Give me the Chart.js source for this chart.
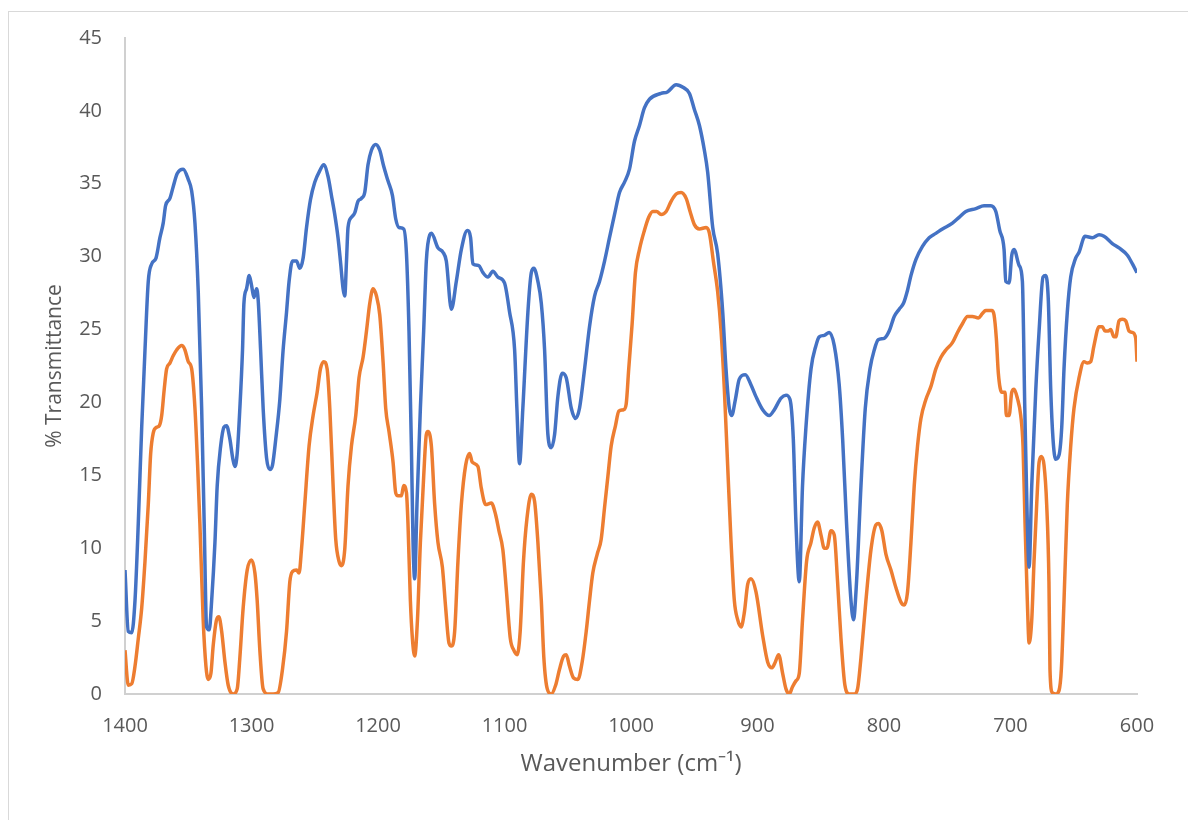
<!DOCTYPE html>
<html>
<head>
<meta charset="utf-8">
<script src="https://cdn.jsdelivr.net/npm/chart.js@4"></script>
<style>
  html, body { margin: 0; padding: 0; background: #fff; overflow: hidden; }
  #wrap { position: relative; width: 1188px; height: 820px; }
  #frame { position: absolute; left: 8px; top: 11px; width: 1200px; height: 830px; border: 1px solid #d9d9d9; }
  #ir { position: absolute; left: 0; top: 0; }
</style>
</head>
<body>
<div id="wrap">
  <div id="frame"></div>
  <canvas id="ir" width="1188" height="820"></canvas>
</div>
<script>
// axis ticks
const xTicks = [1400, 1300, 1200, 1100, 1000, 900, 800, 700, 600];
const yTicks = [0, 5, 10, 15, 20, 25, 30, 35, 40, 45];

// blue trace, wavenumber (cm-1) and % transmittance
const blueWn = [1400, 1397.4, 1394.7, 1392.1, 1389.5, 1386.8, 1384.2, 1381.6, 1378.9, 1375.5,
  1372.4, 1369.8, 1367.9, 1364.5, 1361.9, 1358.7, 1354.0, 1350.0, 1347.3, 1344.7,
  1342.1, 1339.4, 1337.4, 1335.5, 1333.4, 1331.5, 1328.9, 1327.1, 1324.4, 1321.8,
  1319.7, 1317.1, 1314.9, 1313.1, 1311.3, 1309.2, 1307.1, 1306.0, 1303.9, 1301.8,
  1299.9, 1298.1, 1296.0, 1294.7, 1292.8, 1290.8, 1288.1, 1285.5, 1283.4, 1280.8,
  1277.6, 1275.0, 1272.3, 1270.3, 1267.6, 1264.4, 1261.8, 1259.2, 1256.5, 1253.4,
  1250.0, 1246.0, 1242.9, 1239.5, 1236.8, 1234.2, 1231.6, 1229.7, 1227.6, 1226.3,
  1224.9, 1223.7, 1221.0, 1218.4, 1215.8, 1213.1, 1210.5, 1207.9, 1205.2, 1201.8,
  1198.6, 1195.5, 1192.1, 1188.6, 1186.0, 1183.4, 1179.7, 1177.5, 1175.5, 1173.6,
  1172.3, 1171.0, 1169.2, 1166.5, 1163.9, 1161.8, 1159.1, 1157.8, 1152.6, 1148.6,
  1146.0, 1142.0, 1138.1, 1134.1, 1129.4, 1126.8, 1125.0, 1120.5, 1117.0, 1113.1,
  1109.2, 1105.2, 1100.0, 1096.0, 1092.0, 1090.2, 1088.1, 1085.5, 1081.5, 1078.8,
  1076.8, 1073.6, 1070.9, 1068.3, 1065.7, 1063.0, 1060.4, 1057.8, 1054.4, 1051.2,
  1047.2, 1043.8, 1040.7, 1036.7, 1032.8, 1028.8, 1024.9, 1020.9, 1017.0, 1013.0,
  1009.1, 1005.2, 1001.2, 997.3, 993.3, 989.4, 985.4, 976.2, 971.2, 964.3,
  958.6, 953.8, 949.9, 945.9, 942.0, 939.4, 935.4, 931.5, 927.5, 924.9,
  922.3, 920.4, 917.5, 914.4, 909.6, 905.1, 901.2, 895.9, 890.7, 886.7,
  881.4, 877.5, 874.3, 871.7, 869.6, 867.0, 864.4, 861.7, 857.7, 853.8,
  851.2, 847.2, 843.3, 839.3, 835.4, 832.7, 829.6, 826.1, 824.1, 821.7,
  818.2, 814.8, 811.1, 807.7, 804.6, 799.8, 795.9, 791.9, 788.0, 784.6,
  781.4, 778.7, 774.8, 769.6, 764.3, 759.0, 753.8, 745.9, 740.6, 735.3,
  727.4, 720.9, 715.6, 711.6, 708.5, 705.1, 703.7, 701.1, 699.0, 697.2,
  693.2, 690.6, 688.7, 686.7, 685.3, 683.2, 680.0, 677.4, 674.3, 672.2,
  670.1, 668.2, 666.4, 664.3, 661.6, 659.5, 657.7, 655.1, 652.4, 648.5,
  645.8, 641.1, 635.3, 630.0, 626.1, 619.5, 614.2, 607.6, 603.6, 600];
const blueT = [8.5, 4.3, 4.2, 6.4, 11.7, 18.3, 23.6, 28.3, 29.5, 29.9,
  31.3, 32.3, 33.5, 34.0, 34.8, 35.7, 36.0, 35.3, 34.5, 32.3,
  27.6, 19.6, 11.7, 4.6, 4.4, 6.4, 10.4, 14.3, 17.0, 18.3,
  18.4, 17.5, 16.2, 15.6, 16.5, 19.6, 23.6, 26.8, 27.8, 28.7,
  28.0, 27.2, 27.8, 27.0, 23.6, 19.6, 16.2, 15.4, 15.7, 17.5,
  20.2, 23.6, 26.2, 28.3, 29.7, 29.7, 29.2, 29.9, 32.0, 33.9,
  35.1, 35.9, 36.3, 35.5, 34.2, 32.9, 31.3, 29.7, 27.8, 27.3,
  29.7, 32.0, 32.7, 33.0, 33.8, 34.0, 34.4, 36.3, 37.3, 37.7,
  37.3, 36.2, 35.2, 34.2, 32.6, 32.0, 31.9, 30.2, 24.9, 17.0,
  10.4, 7.9, 13.0, 19.6, 24.9, 29.7, 31.5, 31.6, 30.6, 30.3,
  29.7, 26.4, 28.3, 30.5, 31.8, 31.3, 29.5, 29.4, 28.9, 28.6,
  29.0, 28.6, 28.2, 26.2, 23.6, 19.6, 15.8, 19.6, 26.2, 28.9,
  29.2, 28.3, 26.8, 23.6, 17.8, 16.9, 17.8, 20.4, 22.0, 21.7,
  19.6, 18.9, 19.6, 22.3, 25.2, 27.3, 28.3, 29.7, 31.3, 32.9,
  34.4, 35.1, 36.0, 37.9, 39.0, 40.2, 40.8, 41.2, 41.3, 41.8,
  41.6, 41.2, 40.1, 39.0, 37.3, 35.8, 32.0, 30.2, 26.2, 22.3,
  19.6, 19.1, 20.2, 21.6, 21.9, 21.2, 20.4, 19.5, 19.1, 19.5,
  20.3, 20.5, 20.2, 17.5, 11.7, 7.7, 14.3, 18.3, 22.3, 23.9,
  24.5, 24.6, 24.8, 23.9, 21.2, 17.5, 11.7, 6.4, 5.1, 7.7,
  14.3, 19.6, 22.3, 23.6, 24.3, 24.4, 24.9, 25.9, 26.4, 26.8,
  27.7, 28.7, 29.8, 30.7, 31.3, 31.6, 31.9, 32.3, 32.7, 33.1,
  33.3, 33.5, 33.5, 33.1, 31.8, 30.5, 28.3, 28.2, 30.1, 30.5,
  29.4, 28.3, 19.6, 11.7, 8.7, 14.3, 20.9, 24.9, 28.6, 28.7,
  27.0, 20.9, 17.5, 16.1, 16.4, 18.3, 22.3, 26.2, 28.6, 29.9,
  30.3, 31.4, 31.3, 31.5, 31.4, 30.9, 30.6, 30.1, 29.5, 28.9];

// orange trace, wavenumber (cm-1) and % transmittance
const orangeWn = [1400, 1397.4, 1394.7, 1392.1, 1389.5, 1386.8, 1384.2, 1381.6, 1379.7, 1377.7,
  1375.0, 1372.9, 1371.0, 1369.0, 1367.1, 1364.5, 1361.9, 1359.2, 1355.2, 1352.6,
  1350.0, 1347.3, 1344.7, 1342.6, 1340.8, 1338.2, 1336.0, 1334.2, 1332.1, 1330.3,
  1327.6, 1325.8, 1323.6, 1321.0, 1318.4, 1314.5, 1311.3, 1309.2, 1306.6, 1303.4,
  1300.0, 1297.3, 1295.5, 1293.4, 1290.8, 1286.8, 1282.9, 1278.9, 1275.5, 1272.3,
  1269.7, 1267.6, 1264.4, 1262.4, 1260.5, 1257.9, 1254.5, 1251.3, 1248.1, 1245.5,
  1242.9, 1240.2, 1238.1, 1235.5, 1233.4, 1230.8, 1228.9, 1226.3, 1223.7, 1221.0,
  1217.6, 1215.0, 1211.8, 1209.1, 1206.5, 1203.9, 1201.2, 1198.6, 1196.0, 1193.9,
  1191.3, 1188.1, 1186.0, 1184.2, 1181.5, 1179.7, 1177.5, 1176.3, 1174.4, 1172.8,
  1171.0, 1168.8, 1166.5, 1163.9, 1161.8, 1160.5, 1157.8, 1155.2, 1152.6, 1149.1,
  1146.5, 1143.9, 1142.0, 1139.4, 1136.8, 1134.1, 1130.7, 1127.6, 1125.5, 1121.0,
  1118.3, 1114.9, 1110.4, 1107.0, 1104.4, 1101.3, 1098.6, 1095.4, 1092.6, 1090.0,
  1087.6, 1085.0, 1082.3, 1078.8, 1076.2, 1073.6, 1070.9, 1068.9, 1066.2, 1063.0,
  1059.6, 1056.5, 1053.3, 1051.2, 1048.6, 1045.4, 1042.0, 1038.6, 1035.4, 1032.8,
  1030.2, 1026.7, 1023.6, 1020.9, 1018.3, 1015.7, 1012.3, 1009.6, 1005.9, 1003.8,
  1001.8, 999.1, 996.5, 993.3, 989.4, 986.0, 982.8, 979.7, 976.2, 972.2,
  968.3, 964.3, 960.4, 956.4, 953.3, 949.9, 945.9, 940.6, 938.0, 934.9,
  931.5, 928.8, 926.2, 923.6, 920.9, 918.3, 915.7, 913.0, 910.4, 907.8,
  905.1, 901.2, 895.9, 892.0, 888.5, 885.9, 883.3, 880.1, 877.5, 874.9,
  872.3, 869.6, 867.0, 864.4, 861.2, 857.7, 855.1, 852.5, 849.8, 847.2,
  845.1, 841.9, 839.3, 836.7, 834.0, 830.9, 827.5, 823.5, 820.9, 818.2,
  814.3, 810.3, 806.4, 804.3, 801.7, 798.5, 794.5, 790.6, 786.6, 784.0,
  781.4, 778.7, 776.1, 773.5, 770.8, 766.9, 762.9, 759.0, 755.0, 751.1,
  745.9, 741.9, 738.0, 734.0, 730.1, 725.4, 722.2, 719.6, 714.8, 713.0,
  711.2, 709.6, 706.9, 704.3, 703.3, 701.1, 699.0, 697.2, 694.6, 691.9,
  690.1, 688.5, 686.7, 685.3, 683.2, 681.4, 679.3, 677.4, 675.6, 673.5,
  671.4, 669.6, 668.8, 667.0, 664.3, 661.6, 659.8, 657.7, 655.1, 652.4,
  649.8, 645.8, 641.9, 639.3, 636.6, 634.0, 630.0, 627.4, 625.3, 622.7,
  620.8, 618.2, 616.8, 614.2, 611.6, 608.9, 606.3, 603.6, 601.0, 600];
const orangeT = [3.0, 0.6, 0.7, 1.9, 3.8, 5.9, 9.1, 13.0, 16.5, 17.9,
  18.3, 18.4, 19.1, 20.9, 22.3, 22.7, 23.2, 23.6, 23.9, 23.6,
  22.8, 22.3, 19.6, 15.7, 11.7, 5.1, 1.9, 1.0, 1.4, 3.3,
  5.1, 5.3, 4.3, 2.2, 0.6, 0.0, 0.35, 2.5, 5.9, 8.5,
  9.2, 8.3, 6.4, 3.0, 0.35, 0.0, 0.0, 0.1, 1.7, 4.3,
  7.7, 8.4, 8.5, 8.3, 9.9, 13.0, 17.0, 19.1, 20.7, 22.3,
  22.8, 22.3, 19.6, 14.3, 10.6, 9.1, 8.8, 9.9, 14.3, 17.0,
  19.1, 21.7, 23.1, 24.9, 26.8, 27.8, 27.3, 26.0, 22.8, 19.6,
  18.0, 15.9, 13.8, 13.6, 13.6, 14.3, 13.8, 11.7, 6.4, 3.8,
  2.6, 5.1, 10.4, 14.9, 17.8, 18.0, 17.0, 13.0, 10.4, 8.7,
  5.9, 3.5, 3.3, 4.3, 9.1, 13.0, 15.7, 16.5, 15.9, 15.6,
  14.1, 13.0, 13.1, 12.3, 11.2, 9.9, 7.2, 3.8, 3.0, 2.7,
  4.3, 9.1, 12.0, 13.7, 13.2, 10.4, 6.4, 2.5, 0.35, 0.0,
  0.6, 1.7, 2.6, 2.7, 1.9, 1.1, 1.0, 2.2, 4.3, 6.4,
  8.3, 9.6, 10.6, 12.8, 14.9, 17.0, 18.4, 19.4, 19.5, 19.9,
  22.3, 25.4, 28.9, 30.5, 31.8, 32.7, 33.1, 33.1, 32.9, 33.1,
  33.8, 34.3, 34.4, 34.0, 33.1, 32.2, 31.9, 32.0, 31.6, 29.7,
  27.6, 24.9, 20.9, 15.7, 10.4, 6.4, 5.1, 4.6, 5.6, 7.5,
  7.9, 7.0, 4.0, 2.2, 1.8, 2.2, 2.7, 1.4, 0.35, 0.0,
  0.5, 0.9, 1.4, 5.1, 9.1, 10.4, 11.4, 11.8, 10.9, 10.0,
  10.0, 11.2, 10.9, 7.7, 3.8, 0.6, 0.0, 0.0, 0.35, 2.5,
  6.4, 9.9, 11.6, 11.7, 11.2, 9.6, 8.5, 7.3, 6.3, 6.1,
  7.0, 10.4, 14.3, 17.0, 18.9, 20.2, 21.1, 22.3, 23.1, 23.6,
  24.1, 24.8, 25.4, 25.9, 25.9, 25.8, 26.1, 26.3, 26.3, 26.0,
  24.4, 22.0, 20.7, 20.7, 19.1, 19.1, 20.7, 20.9, 20.3, 19.1,
  17.0, 11.7, 6.4, 3.5, 5.1, 9.1, 13.0, 15.9, 16.3, 15.7,
  13.0, 7.7, 1.7, 0.1, 0.0, 0.25, 1.7, 6.4, 13.0, 17.0,
  19.6, 21.7, 22.8, 22.7, 22.8, 23.9, 25.2, 25.2, 24.9, 24.9,
  25.0, 24.5, 24.5, 25.6, 25.7, 25.6, 24.9, 24.8, 24.4, 22.8];

const toPoints = (xs, ys) => xs.map((x, i) => ({ x, y: ys[i] }));
const labelFont = { family: "'Open Sans', sans-serif", size: 20 };
const grey = "#595959";

new Chart(document.getElementById("ir"), {
  type: "line",
  data: {
    datasets: [
      {
        data: toPoints(blueWn, blueT),
        borderColor: "#4472C4",
        borderWidth: 3.5,
        pointRadius: 0,
        cubicInterpolationMode: "monotone",
      },
      {
        data: toPoints(orangeWn, orangeT),
        borderColor: "#ED7D31",
        borderWidth: 3.5,
        pointRadius: 0,
        cubicInterpolationMode: "monotone",
      },
    ],
  },
  options: {
    responsive: false,
    animation: false,
    layout: { padding: { left: 0, right: 51, top: 38, bottom: 0 } },
    plugins: { legend: { display: false }, tooltip: { enabled: false } },
    scales: {
      x: {
        type: "linear",
        reverse: true,
        min: 600,
        max: 1400,
        afterBuildTicks: (s) => { s.ticks = xTicks.map((v) => ({ value: v })); },
        afterFit: (s) => { s.height = 126; },
        grid: { display: false, drawTicks: false },
        border: { display: true, color: "#d0d0d0", width: 2 },
        ticks: { color: grey, font: labelFont, padding: 20, maxRotation: 0, callback: (v) => String(v) },
        title: {
          display: true,
          text: "Wavenumber (cm\u207B\u00B9)",
          color: grey,
          font: { family: "'Open Sans', sans-serif", size: 24 },
          padding: { top: 0, bottom: 41 },
        },
      },
      y: {
        min: 0,
        max: 45,
        afterBuildTicks: (s) => { s.ticks = yTicks.map((v) => ({ value: v })); },
        afterFit: (s) => { s.width = 125; },
        grid: { display: false, drawTicks: false },
        border: { display: true, color: "#d0d0d0", width: 2 },
        ticks: { color: grey, font: labelFont, padding: 23 },
        title: {
          display: true,
          text: "% Transmittance",
          color: grey,
          font: { family: "'Open Sans', sans-serif", size: 21 },
          padding: { top: 42, bottom: 0 },
        },
      },
    },
  },
});
</script>
</body>
</html>
